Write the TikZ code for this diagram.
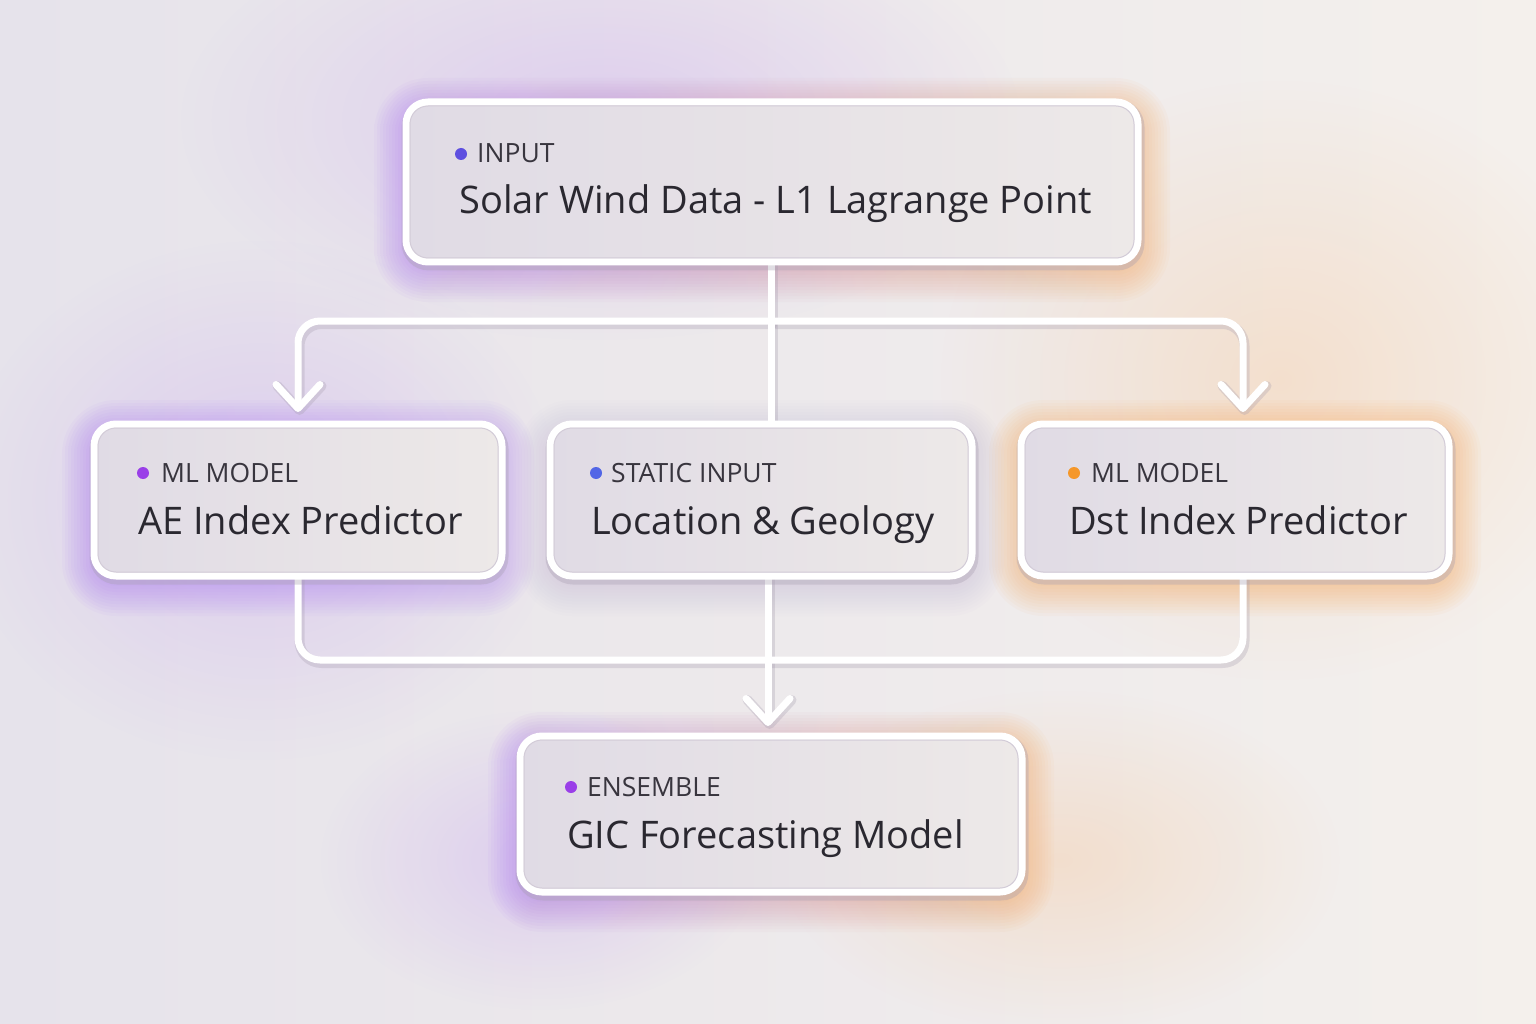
\documentclass[tikz,border=0pt]{standalone}
\usepackage{fontspec}
\setmainfont{Open Sans}
\usetikzlibrary{arrows.meta,calc,fadings}
\definecolor{bgL}{HTML}{E6E3EB}
\definecolor{bgR}{HTML}{F4F0EC}
\definecolor{pglow}{HTML}{A56CF2}
\definecolor{pglowb}{HTML}{B58CF0}
\definecolor{oglow}{HTML}{F5A553}
\definecolor{lglow}{HTML}{C9BCE0}
\definecolor{boxL}{HTML}{E0DBE5}
\definecolor{boxR}{HTML}{EDE9E8}
\definecolor{shadowc}{HTML}{A79EB0}
\definecolor{rimc}{HTML}{D3CCD8}
\definecolor{labelc}{HTML}{38353E}
\definecolor{mainc}{HTML}{2A2830}
\definecolor{dotA}{HTML}{5E4FE0}
\definecolor{dotB}{HTML}{9A3FE8}
\definecolor{dotC}{HTML}{5266E6}
\definecolor{dotD}{HTML}{F5972A}
\definecolor{blobP}{HTML}{C7A2F4}
\definecolor{blobO}{HTML}{F7C89C}
\tikzfading[name=softblob, inner color=transparent!62, outer color=transparent!100]
\begin{document}
\begin{tikzpicture}[x=1pt,y=-1pt,
  boxnode/.style={rectangle, inner sep=0pt, outer sep=0pt},
  labeltext/.style={anchor=base west, inner sep=0pt, text=labelc, font=\fontsize{26.5}{30}\selectfont},
  maintext/.style={anchor=base west, inner sep=0pt, text=mainc, font=\fontsize{38}{44}\selectfont},
  dotnode/.style={circle, inner sep=0pt, minimum size=12pt, fill=#1},
  conn/.style={draw=white, line width=7pt, line cap=round, line join=round, rounded corners=22pt},
  connsh/.style={draw=shadowc, line width=10pt, opacity=0.3, line cap=round, line join=round, rounded corners=22pt, transform canvas={shift={(1.5pt,-3pt)}}},
  tipped/.style={-{Straight Barb[length=24pt,width=44pt,round]}}
]
\useasboundingbox (0,0) rectangle (1536,1024);
% background
\shade[left color=bgL, right color=bgR] (0,0) rectangle (1536,1024);
\fill[blobP, path fading=softblob] (600,120) ellipse (420 and 220);
\fill[blobP, path fading=softblob] (260,500) ellipse (300 and 260);
\fill[blobO, path fading=softblob] (1280,380) ellipse (340 and 300);
\fill[blobO, path fading=softblob] (1060,860) ellipse (280 and 170);
\fill[blobP, path fading=softblob] (540,860) ellipse (220 and 150);

% box nodes (geometry only)
\path node[boxnode, minimum width=732pt, minimum height=160pt] (top) at (772,182) {};
\path node[boxnode, minimum width=408pt, minimum height=152pt] (ae) at (298,500) {};
\path node[boxnode, minimum width=422pt, minimum height=152pt] (mid) at (761,500) {};
\path node[boxnode, minimum width=428pt, minimum height=152pt] (dst) at (1235,500) {};
\path node[boxnode, minimum width=502pt, minimum height=156pt] (gic) at (771,814) {};

% glows
\foreach \n/\cl/\cr in {top/pglow/oglow, ae/pglow/pglowb, mid/lglow/lglow, dst/oglow/oglow, gic/pglow/oglow}{
  \foreach \d in {2,5,...,32}{
    \shade[left color=\cl, right color=\cr, opacity=0.045, rounded corners={(22+\d)*1pt}]
      ($(\n.north west)+(-\d,-\d+8)$) rectangle ($(\n.south east)+(\d,\d+8)$);
  }
}

% connector coordinates
\coordinate (split) at (771,321);
\coordinate (lb) at (298,321);
\coordinate (rb) at (1243,321);
\coordinate (jl) at (298,660);
\coordinate (jr) at (1243,660);
\coordinate (jm) at (768,660);

% connector shadows
\draw[connsh] (top.south -| split) -- (split |- mid.north);
\draw[connsh, tipped, shorten >=12pt] (split) -- (lb) -- (lb |- ae.north);
\draw[connsh, tipped, shorten >=12pt] (split) -- (rb) -- (rb |- dst.north);
\draw[connsh] (jl |- ae.south) -- (jl) -- (jr) -- (jr |- dst.south);
\draw[connsh, tipped, shorten >=10pt] (jm |- mid.south) -- (jm |- gic.north);
% connectors
\draw[conn] (top.south -| split) -- (split |- mid.north);
\draw[conn, tipped, shorten >=12pt] (split) -- (lb) -- (lb |- ae.north);
\draw[conn, tipped, shorten >=12pt] (split) -- (rb) -- (rb |- dst.north);
\draw[conn] (jl |- ae.south) -- (jl) -- (jr) -- (jr |- dst.south);
\draw[conn, tipped, shorten >=10pt] (jm |- mid.south) -- (jm |- gic.north);

% boxes
\foreach \n in {top,ae,mid,dst,gic}{
  \draw[draw=shadowc, line width=11pt, opacity=0.35, rounded corners=22pt]
    ($(\n.north west)+(1,3)$) rectangle ($(\n.south east)+(1,3)$);
  \shade[left color=boxL, right color=boxR, rounded corners=22pt]
    (\n.north west) rectangle (\n.south east);
  \draw[draw=white, line width=7pt, rounded corners=22pt]
    (\n.north west) rectangle (\n.south east);
  \draw[draw=rimc, line width=1pt, rounded corners=18pt]
    ($(\n.north west)+(4,4)$) rectangle ($(\n.south east)+(-4,-4)$);
}

% texts
\node[dotnode=dotA] (d1) at (461,154) {};
\node[labeltext] (l1) at (477,163) {INPUT};
\node[maintext] (m1) at (459,214) {Solar Wind Data - L1 Lagrange Point};

\node[dotnode=dotB] (d2) at (143,473) {};
\node[labeltext] (l2) at (161,482) {ML MODEL};
\node[maintext] (m2) at (138,534) {AE Index Predictor};

\node[dotnode=dotC] (d3) at (596,473) {};
\node[labeltext] (l3) at (611,482) {STATIC INPUT};
\node[maintext] (m3) at (591,534) {Location \& Geology};

\node[dotnode=dotD] (d4) at (1074,473) {};
\node[labeltext] (l4) at (1091,482) {ML MODEL};
\node[maintext] (m4) at (1069,534) {Dst Index Predictor};

\node[dotnode=dotB] (d5) at (571,787) {};
\node[labeltext] (l5) at (587,796) {ENSEMBLE};
\node[maintext] (m5) at (567,848) {GIC Forecasting Model};
\end{tikzpicture}
\end{document}
